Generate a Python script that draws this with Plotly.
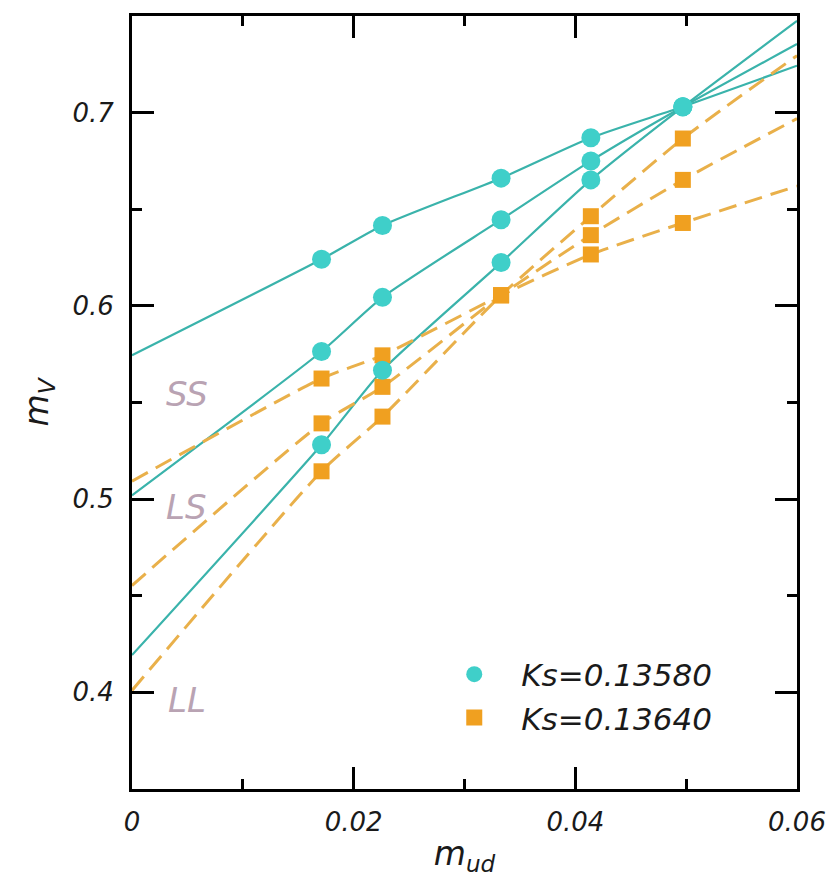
import plotly.graph_objects as go

# Light-quark mass values (m_ud) at which the vector meson mass was measured
m_ud = [0.0171, 0.0226, 0.0333, 0.0414, 0.0497]
x_fit_ends = [0.0, 0.06]

# Ks = 0.13580: measured m_V for the SS, LS and LL combinations
ks1_ss = [0.6241, 0.6416, 0.6661, 0.6870, 0.7030]
ks1_ls = [0.5764, 0.6044, 0.6446, 0.6750, 0.7030]
ks1_ll = [0.5281, 0.5667, 0.6224, 0.6652, 0.7030]
# fit curve values at m_ud = 0 and m_ud = 0.06
ks1_ss_ends = [0.5744, 0.7243]
ks1_ls_ends = [0.5020, 0.7355]
ks1_ll_ends = [0.4193, 0.7475]

# Ks = 0.13640
ks2_ss = [0.5624, 0.5744, 0.6055, 0.6266, 0.6429]
ks2_ls = [0.5392, 0.5581, 0.6055, 0.6366, 0.6652]
ks2_ll = [0.5144, 0.5427, 0.6055, 0.6464, 0.6866]
ks2_ss_ends = [0.5093, 0.6620]
ks2_ls_ends = [0.4553, 0.6969]
ks2_ll_ends = [0.4010, 0.7295]

combo_labels = ["SS", "LS", "LL"]
combo_label_x = [0.00495, 0.00495, 0.00495]
combo_label_y = [0.5545, 0.4959, 0.3961]

legend_names = ["Ks=0.13580", "Ks=0.13640"]
x_ticks = [0, 0.02, 0.04, 0.06]
x_tick_text = ["0", "0.02", "0.04", "0.06"]
x_minor = [0.01, 0.03, 0.05]
y_ticks = [0.4, 0.5, 0.6, 0.7]
y_tick_text = ["0.4", "0.5", "0.6", "0.7"]
y_minor = [0.45, 0.55, 0.65]

CYAN_MARK = "#3fcfc9"
CYAN_LINE = "#3ab3ab"
ORANGE_MARK = "#f0a020"
ORANGE_LINE = "#e9b04a"
FONT = "DejaVu Sans"

fig = go.Figure()


def fit_curve(vals, ends, color, dash, width):
    xs = [x_fit_ends[0]] + m_ud + [x_fit_ends[1]]
    ys = [ends[0]] + vals + [ends[1]]
    fig.add_trace(go.Scatter(
        x=xs, y=ys, mode="lines", showlegend=False, hoverinfo="skip",
        line=dict(color=color, width=width, dash=dash, shape="spline", smoothing=0.6),
    ))


# fitted curves
for vals, ends in [(ks1_ss, ks1_ss_ends), (ks1_ls, ks1_ls_ends), (ks1_ll, ks1_ll_ends)]:
    fit_curve(vals, ends, CYAN_LINE, "solid", 2.2)
for vals, ends in [(ks2_ss, ks2_ss_ends), (ks2_ls, ks2_ls_ends), (ks2_ll, ks2_ll_ends)]:
    fit_curve(vals, ends, ORANGE_LINE, "18px,9px", 3)

# measured points
for i, vals in enumerate([ks2_ss, ks2_ls, ks2_ll]):
    fig.add_trace(go.Scatter(
        x=m_ud, y=vals, mode="markers", name=legend_names[1],
        showlegend=(i == 0), legendrank=2,
        marker=dict(symbol="square", size=16, color=ORANGE_MARK, line=dict(width=0)),
    ))
for i, vals in enumerate([ks1_ss, ks1_ls, ks1_ll]):
    fig.add_trace(go.Scatter(
        x=m_ud, y=vals, mode="markers", name=legend_names[0],
        showlegend=(i == 0), legendrank=1,
        marker=dict(symbol="circle", size=19, color=CYAN_MARK, line=dict(width=0)),
    ))

# SS / LS / LL labels
for lab, lx, ly in zip(combo_labels, combo_label_x, combo_label_y):
    fig.add_annotation(
        x=lx, y=ly, text=lab, showarrow=False, xanchor="center", yanchor="middle",
        font=dict(family=FONT, size=34, color="#b9a3b3", style="italic"),
    )

axis_common = dict(
    showline=True, linewidth=3, linecolor="black", mirror="ticks",
    ticks="inside", ticklen=22, tickwidth=3, tickcolor="black",
    showgrid=False, zeroline=False,
    tickfont=dict(family=FONT, size=26, color="#1a1a1a", style="italic"),
)

fig.update_xaxes(
    range=[0, 0.06], tickvals=x_ticks, ticktext=x_tick_text,
    minor=dict(tickvals=x_minor, ticks="inside", ticklen=10, tickwidth=3, tickcolor="black"),
    title=dict(text="<i>m</i><sub><i>ud</i></sub>", standoff=6,
               font=dict(family=FONT, size=33, color="#1a1a1a")),
    ticklabelstandoff=8,
    **axis_common,
)
fig.update_yaxes(
    range=[0.35, 0.75], tickvals=y_ticks, ticktext=y_tick_text,
    minor=dict(tickvals=y_minor, ticks="inside", ticklen=10, tickwidth=3, tickcolor="black"),
    title=dict(text="<i>m</i><sub><i>V</i></sub>", standoff=14,
               font=dict(family=FONT, size=33, color="#1a1a1a")),
    ticklabelstandoff=10,
    **axis_common,
)

fig.update_layout(
    width=838, height=878,
    margin=dict(l=132, r=40, t=16, b=83),
    paper_bgcolor="white", plot_bgcolor="white",
    legend=dict(
        x=0.444, y=0.183, xanchor="left", yanchor="top",
        bgcolor="rgba(0,0,0,0)", borderwidth=0, itemwidth=84,
        font=dict(family=FONT, size=31, color="#1a1a1a", style="italic"),
        traceorder="normal",
    ),
)

fig.write_html("out.html")
